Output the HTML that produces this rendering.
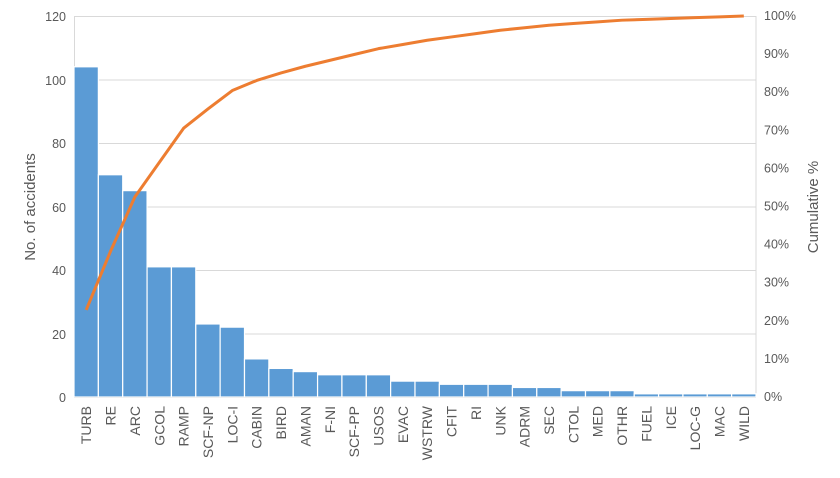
<!DOCTYPE html>
<html><head><meta charset="utf-8"><style>body{margin:0;background:#fff}</style></head>
<body>
<svg width="840" height="473" xmlns="http://www.w3.org/2000/svg" font-family="Liberation Sans, sans-serif">
<g stroke="#d9d9d9" stroke-width="1">
<line x1="74" y1="16.5" x2="756" y2="16.5"/><line x1="74" y1="80" x2="756" y2="80"/>
<line x1="74" y1="143.5" x2="756" y2="143.5"/><line x1="74" y1="207" x2="756" y2="207"/>
<line x1="74" y1="270.5" x2="756" y2="270.5"/><line x1="74" y1="334" x2="756" y2="334"/>
<line x1="74" y1="397.5" x2="756" y2="397.5"/>
<line x1="74.5" y1="16" x2="74.5" y2="397"/><line x1="756" y1="16" x2="756" y2="397"/>
</g>
<g id="bars" fill="#5b9bd5" stroke="#fff" stroke-width="1.2"></g>
<polyline id="line" fill="none" stroke="#ed7d31" stroke-width="3" stroke-linejoin="round"/>
<g fill="#595959" font-size="12.5" text-anchor="end">
<text x="66" y="21">120</text><text x="66" y="85">100</text><text x="66" y="148">80</text>
<text x="66" y="212">60</text><text x="66" y="275">40</text><text x="66" y="339">20</text><text x="66" y="402">0</text>
</g>
<g id="pct" fill="#595959" font-size="12.5"></g>
<g id="lab" fill="#595959" font-size="14"></g>
<text transform="translate(35,207) rotate(-90)" text-anchor="middle" font-size="15" fill="#595959">No. of accidents</text>
<text transform="translate(818,207) rotate(-90)" text-anchor="middle" font-size="15" fill="#595959">Cumulative %</text>
</svg>
<script>
var n=["TURB","RE","ARC","GCOL","RAMP","SCF-NP","LOC-I","CABIN","BIRD","AMAN","F-NI","SCF-PP","USOS","EVAC","WSTRW","CFIT","RI","UNK","ADRM","SEC","CTOL","MED","OTHR","FUEL","ICE","LOC-G","MAC","WILD"];
var v=[104,70,65,41,41,23,22,12,9,8,7,7,7,5,5,4,4,4,3,3,2,2,2,1,1,1,1,1];
var ns="http://www.w3.org/2000/svg",x0=74,w=682/28,y0=397,h=381,tot=455,c=0,pts=[];
var B=document.getElementById("bars"),L=document.getElementById("lab"),P=document.getElementById("pct");
for(var i=0;i<28;i++){var r=document.createElementNS(ns,"rect");var bh=v[i]/120*h;
r.setAttribute("x",x0+i*w);r.setAttribute("y",y0-bh);r.setAttribute("width",w);r.setAttribute("height",bh);B.appendChild(r);
c+=v[i];var cx=x0+(i+.5)*w;pts.push(cx+","+(y0-c/tot*h));
var t=document.createElementNS(ns,"text");t.setAttribute("transform","translate("+(cx+5)+",406) rotate(-90)");t.setAttribute("text-anchor","end");t.textContent=n[i];L.appendChild(t);}
document.getElementById("line").setAttribute("points",pts.join(" "));
for(var k=0;k<=10;k++){var t=document.createElementNS(ns,"text");t.setAttribute("x",764);t.setAttribute("y",y0-k/10*h+4);t.textContent=(k*10)+"%";P.appendChild(t);}
</script>
</body></html>
